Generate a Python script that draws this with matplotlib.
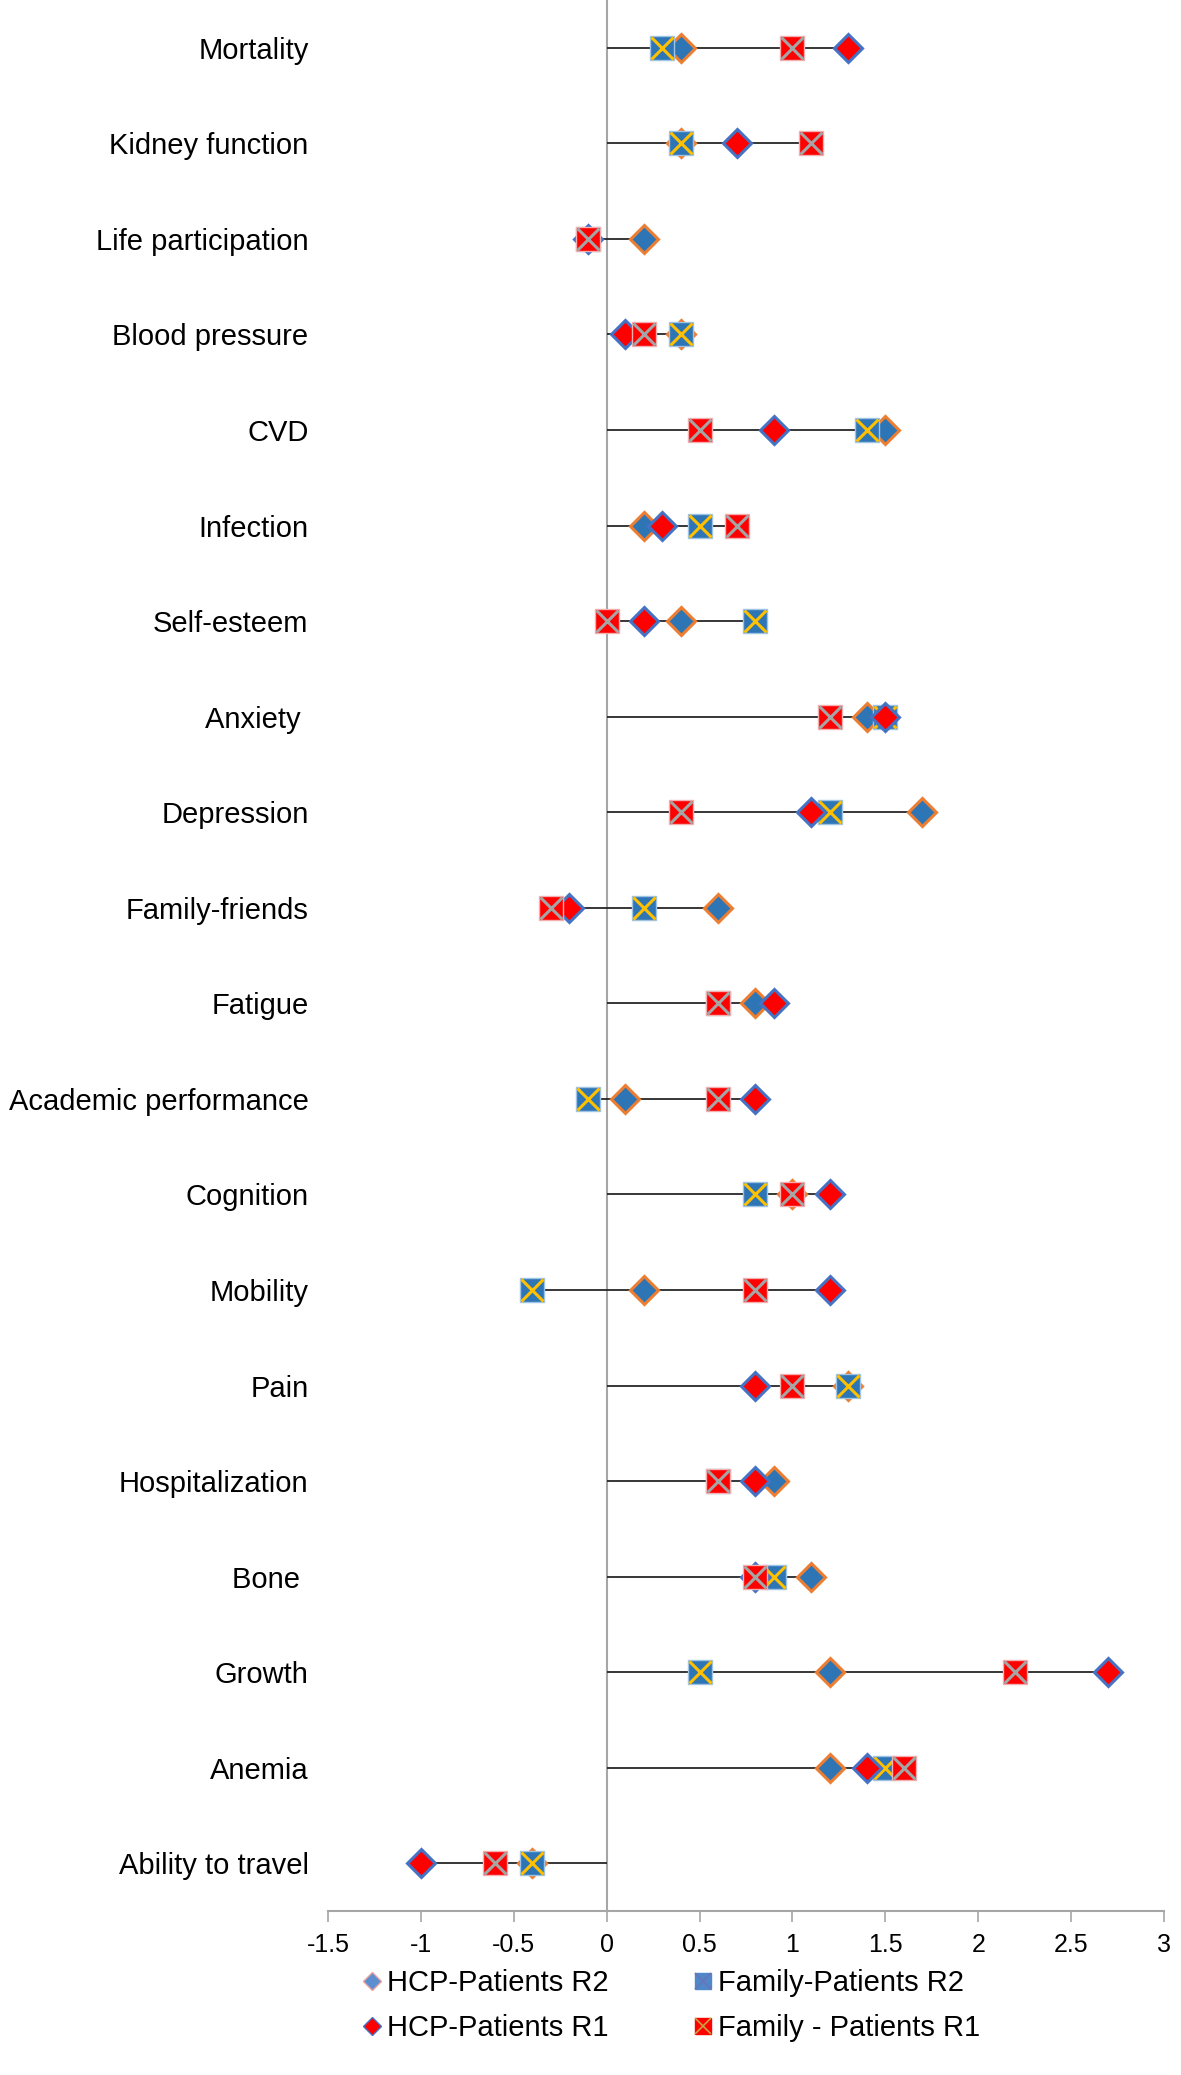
import matplotlib.pyplot as plt
from matplotlib.lines import Line2D

plt.rcParams['font.family'] = ['Liberation Sans', 'DejaVu Sans']

# outcome categories, top to bottom
categories = ['Mortality', 'Kidney function', 'Life participation', 'Blood pressure',
              'CVD', 'Infection', 'Self-esteem', 'Anxiety ', 'Depression',
              'Family-friends', 'Fatigue', 'Academic performance', 'Cognition',
              'Mobility', 'Pain', 'Hospitalization', 'Bone ', 'Growth', 'Anemia',
              'Ability to travel']

hcp_r2 = [0.4, 0.4, 0.2, 0.4, 1.5, 0.2, 0.4, 1.4, 1.7, 0.6,
          0.8, 0.1, 1.0, 0.2, 1.3, 0.9, 1.1, 1.2, 1.2, -0.4]
family_r2 = [0.3, 0.4, -0.1, 0.4, 1.4, 0.5, 0.8, 1.5, 1.2, 0.2,
             0.6, -0.1, 0.8, -0.4, 1.3, 0.6, 0.9, 0.5, 1.5, -0.4]
hcp_r1 = [1.3, 0.7, -0.1, 0.1, 0.9, 0.3, 0.2, 1.5, 1.1, -0.2,
          0.9, 0.8, 1.2, 1.2, 0.8, 0.8, 0.8, 2.7, 1.4, -1.0]
family_r1 = [1.0, 1.1, -0.1, 0.2, 0.5, 0.7, 0.0, 1.2, 0.4, -0.3,
             0.6, 0.6, 1.0, 0.8, 1.0, 0.6, 0.8, 2.2, 1.6, -0.6]

x_ticks = [-1.5, -1, -0.5, 0, 0.5, 1, 1.5, 2, 2.5, 3]
x_tick_labels = ['-1.5', '-1', '-0.5', '0', '0.5', '1', '1.5', '2', '2.5', '3']

BLUE = '#2E75B6'
ORANGE = '#ED7D31'
RED = '#FF0000'
EDGE_BLUE = '#4472C4'
YELLOW = '#FFC000'
GREY = '#A5A5A5'

fig = plt.figure(figsize=(11.81, 20.75), dpi=100)
ax = fig.add_axes([0.2777, 0.079, 0.7079, 0.921])

y = list(range(len(categories)))

# range line for each row, spanning zero and all four values
lo = [min(0, a, b, c, d) for a, b, c, d in zip(hcp_r2, family_r2, hcp_r1, family_r1)]
hi = [max(0, a, b, c, d) for a, b, c, d in zip(hcp_r2, family_r2, hcp_r1, family_r1)]
ax.hlines(y, lo, hi, color='#262626', lw=1.3, zorder=2)
ax.axvline(0, color='#A6A6A6', lw=1.5, zorder=1)

ax.plot(hcp_r2, y, ls='none', marker='D', ms=14, mfc=BLUE, mec=ORANGE, mew=2.2, zorder=3)
ax.plot(family_r2, y, ls='none', marker='s', ms=17.5, mfc=BLUE, mec='#9DC3E6', mew=1.0, zorder=4)
ax.plot(family_r2, y, ls='none', marker='x', ms=16.5, mec=YELLOW, mew=2.2, zorder=4.1)
ax.plot(hcp_r1, y, ls='none', marker='D', ms=14, mfc=RED, mec=EDGE_BLUE, mew=2.2, zorder=5)
ax.plot(family_r1, y, ls='none', marker='s', ms=17.5, mfc=RED, mec='#F4B0B0', mew=1.0, zorder=6)
ax.plot(family_r1, y, ls='none', marker='x', ms=16.5, mec=GREY, mew=2.2, zorder=6.1)

ax.set_xlim(-1.5, 3)
ax.set_ylim(len(categories) - 0.5, -0.5)

ax.set_yticks(y)
ax.set_yticklabels(categories, fontsize=21)
ax.tick_params(axis='y', length=0, pad=14)

ax.set_xticks(x_ticks)
ax.set_xticklabels(x_tick_labels, fontsize=18)
ax.tick_params(axis='x', length=8, width=1.2, color='#A6A6A6', direction='out', pad=8)

for side in ['left', 'right', 'top']:
    ax.spines[side].set_visible(False)
ax.spines['bottom'].set_color('#A6A6A6')
ax.spines['bottom'].set_linewidth(1.5)

handles = [
    Line2D([], [], ls='none', marker='D', ms=9, mfc='#5B8FD0', mec='#E7A0A0', mew=1),
    Line2D([], [], ls='none', marker='D', ms=9, mfc=RED, mec=EDGE_BLUE, mew=1),
    (Line2D([], [], ls='none', marker='s', ms=12, mfc='#4F87C9', mec='#4F87C9'),
     Line2D([], [], ls='none', marker='x', ms=11, mec='#6A75B8', mew=1.2)),
    (Line2D([], [], ls='none', marker='s', ms=12, mfc=RED, mec=RED),
     Line2D([], [], ls='none', marker='x', ms=11, mec='#C8A040', mew=1.2)),
]
labels = ['HCP-Patients R2', 'HCP-Patients R1', 'Family-Patients R2', 'Family - Patients R1']
fig.legend(handles, labels, ncol=2, loc='center left', bbox_to_anchor=(0.293, 0.0335),
           frameon=False, fontsize=21, handlelength=0.8, handletextpad=0.1,
           columnspacing=2.85, labelspacing=0.6, borderpad=0)

fig.savefig('out.png', dpi=100)
